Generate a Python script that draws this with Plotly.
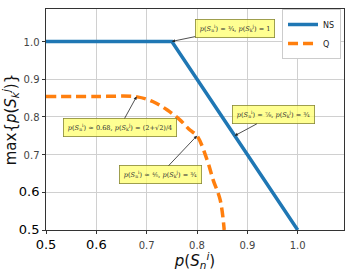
import plotly.graph_objects as go

# Data
ns_x = [0.5, 0.75, 1.0]
ns_y = [1.0, 1.0, 0.5]
q_x = [0.5, 0.60, 0.681, 0.713, 0.741, 0.766, 0.786, 0.80, 0.820, 0.832, 0.846, 0.854]
q_y = [0.854, 0.854, 0.853, 0.840, 0.818, 0.792, 0.765, 0.75, 0.686, 0.633, 0.580, 0.50]

x_ticks = [0.5, 0.6, 0.7, 0.8, 0.9, 1.0]
y_ticks = [0.5, 0.6, 0.7, 0.8, 0.9, 1.0]

ann_x = [0.75, 0.875, 0.68, 0.8]
ann_y = [1.0, 0.75, 0.854, 0.75]
ann_text = [
    "<i>p</i>(<i>S</i><sub>n</sub><sup>i</sup>) = ¾, <i>p</i>(<i>S</i><sub>k</sub><sup>j</sup>) = 1",
    "<i>p</i>(<i>S</i><sub>n</sub><sup>i</sup>) = ⅞, <i>p</i>(<i>S</i><sub>k</sub><sup>j</sup>) = ¾",
    "<i>p</i>(<i>S</i><sub>n</sub><sup>i</sup>) ≈ 0.68, <i>p</i>(<i>S</i><sub>k</sub><sup>j</sup>) = (2+√2)/4",
    "<i>p</i>(<i>S</i><sub>n</sub><sup>i</sup>) ≈ ⅘, <i>p</i>(<i>S</i><sub>k</sub><sup>j</sup>) = ¾",
]
ann_off = [(63, -13), (39, -21), (-17, 31), (-37, 39)]

big = '<span style="font-size:13px;color:#000">{}</span>'
small = '<span style="font-size:10px;color:#444">{}</span>'
x_ticktext = [big.format("0.5"), big.format("0.6"), small.format("0.7"),
              small.format("0.8"), small.format("0.9"), small.format("1.0")]
y_ticktext = [big.format("0.5"), big.format("0.6"), small.format("0.7"),
              small.format("0.8"), small.format("0.9"), small.format("1.0")]

fig = go.Figure()
fig.add_trace(go.Scatter(x=ns_x, y=ns_y, mode="lines", name="NS",
                         line=dict(color="#1f77b4", width=3.5)))
fig.add_trace(go.Scatter(x=q_x, y=q_y, mode="lines", name="Q",
                         line=dict(color="#ff7f0e", width=3.5, dash="10px,5px", shape="spline")))

for (x, y, t, (ax, ay)) in zip(ann_x, ann_y, ann_text, ann_off):
    fig.add_annotation(x=x, y=y, text=t, showarrow=True, ax=ax, ay=ay,
                       arrowhead=2, arrowsize=0.8, arrowwidth=0.8, arrowcolor="#222",
                       font=dict(family="DejaVu Serif", size=6.6, color="#333"),
                       bgcolor="rgba(255,255,110,0.75)", bordercolor="#888833",
                       borderwidth=0.8, borderpad=4)

fig.update_layout(
    width=353, height=271,
    margin=dict(l=46, r=9, t=9, b=41, autoexpand=False),
    paper_bgcolor="white", plot_bgcolor="white",
    font=dict(family="DejaVu Sans", color="#222"),
    showlegend=True,
    legend=dict(x=0.99, y=1.0, xanchor="right", yanchor="top",
                bgcolor="white", bordercolor="#cccccc", borderwidth=1,
                font=dict(size=8), tracegroupgap=0, itemwidth=30),
    xaxis=dict(range=[0.5, 1.092], tickvals=x_ticks, ticktext=x_ticktext,
               automargin=False,
               showgrid=True, gridcolor="#d0d0d0", gridwidth=1,
               showline=True, linecolor="#333", linewidth=1.2, mirror=True,
               ticks="outside", ticklen=3, tickcolor="#333", zeroline=False,
               title=dict(text="<i>p</i>(<i>S</i><sub><i>n</i></sub><sup><i>i</i></sup>)",
                          font=dict(size=15, color="#111"), standoff=0)),
    yaxis=dict(range=[0.5, 1.086], tickvals=y_ticks, ticktext=y_ticktext,
               automargin=False,
               showgrid=True, gridcolor="#d0d0d0", gridwidth=1,
               showline=True, linecolor="#333", linewidth=1.2, mirror=True,
               ticks="outside", ticklen=3, tickcolor="#333", zeroline=False,
               title=dict(text="max{<i>p</i>(<i>S</i><sub><i>k</i></sub><sup><i>j</i></sup>)}",
                          font=dict(size=15, color="#111"), standoff=4)),
)

fig.write_html("out.html", config={"displayModeBar": False},
               post_script="document.body.style.margin='0px';")
